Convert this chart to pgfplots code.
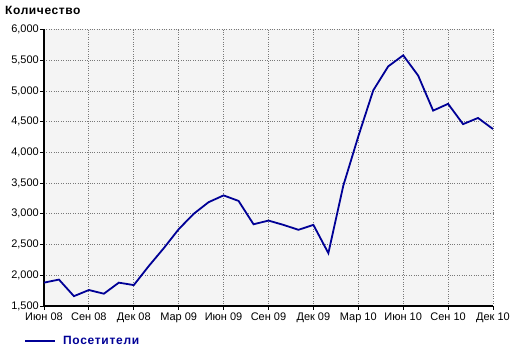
\documentclass[border=0pt]{standalone}
\usepackage{fontspec}
\setmainfont{Liberation Sans}
\usepackage{pgfplots}
\pgfplotsset{compat=1.18}
\definecolor{bgc}{RGB}{244,244,244}
\definecolor{linec}{RGB}{0,0,150}
\definecolor{gridc}{RGB}{120,120,120}
\begin{document}
\begin{tikzpicture}[x=1pt,y=1pt]
\path[use as bounding box] (-44,-47) rectangle (476,306);
\begin{axis}[
  at={(0,0)}, anchor=origin,
  scale only axis,
  width=449pt, height=276.5pt,
  xmin=0, xmax=30, ymin=1500, ymax=6000,
  axis lines=left,
  axis line style={-, line width=2pt, black},
  axis background/.style={fill=bgc},
  xtick={0,3,...,30},
  xticklabels={Июн 08,Сен 08,Дек 08,Мар 09,Июн 09,Сен 09,Дек 09,Мар 10,Июн 10,Сен 10,Дек 10},
  ytick={1500,2000,...,6000},
  grid=major,
  major grid style={dotted, gridc, line width=0.8pt},
  tick align=outside,
  major tick length=4pt,
  tick style={black, line width=0.8pt},
  ticklabel style={font=\fontsize{11}{13}\selectfont},
  yticklabel style={inner sep=1pt},
  xticklabel style={inner sep=1pt, yshift=-2pt},
  /pgf/number format/.cd, 1000 sep={,}, assume math mode=true,
  /pgfplots/.cd,
  legend style={at={(axis description cs:-0.0445,-0.1266)}, anchor=west, draw=none, fill=none, inner sep=0pt,
    font=\fontsize{12}{14}\selectfont\bfseries\addfontfeature{LetterSpace=6}\color{linec},
    /tikz/every even column/.append style={column sep=0pt}},
  legend image code/.code={\draw[#1] (0pt,0pt) -- (30pt,0pt);},
  legend cell align=left,
  clip=false,
]
\addplot[linec, line width=1.8pt] coordinates {
(0,1880) (1,1930) (2,1660) (3,1760) (4,1700) (5,1880) (6,1840) (7,2150)
(8,2440) (9,2750) (10,3000) (11,3190) (12,3300) (13,3210) (14,2830)
(15,2890) (16,2820) (17,2740) (18,2820) (19,2360) (20,3460) (21,4260)
(22,5010) (23,5400) (24,5580) (25,5250) (26,4680) (27,4790) (28,4460)
(29,4560) (30,4380)
};
\addlegendentry{\hspace{5pt}Посетители}
\end{axis}
\node[anchor=west, font=\fontsize{12}{14}\selectfont\bfseries\addfontfeature{LetterSpace=5}, inner sep=0pt] at (-39,295.5) {Количество};
\end{tikzpicture}
\end{document}
